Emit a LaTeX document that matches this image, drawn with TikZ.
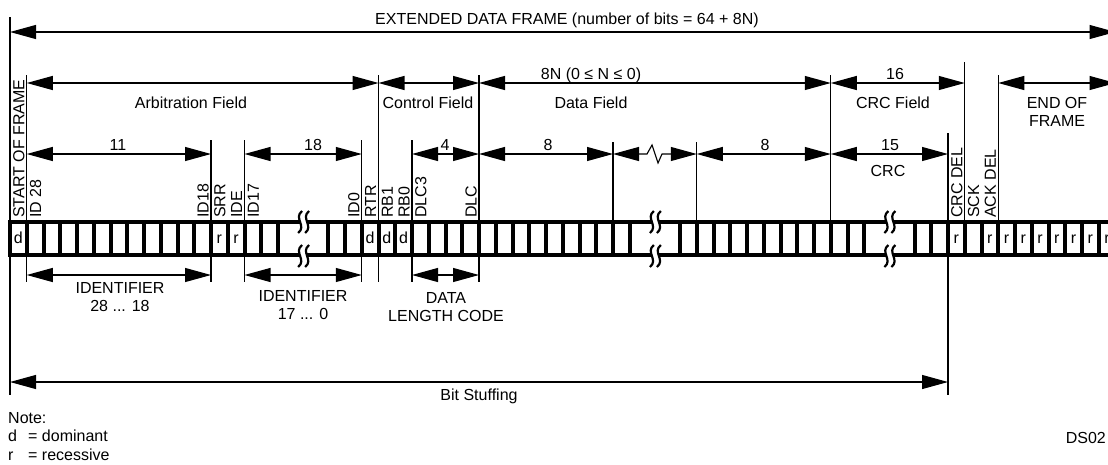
\documentclass[tikz,border=0pt]{standalone}
\usepackage{fontspec}
\setmainfont{Liberation Sans}
\usetikzlibrary{arrows.meta}
\tikzset{
	lbl/.style={inner sep=0pt, anchor=base},
	mlbl/.style={inner sep=0pt, anchor=north, align=center},
	vlbl/.style={inner sep=0pt, rotate=90, anchor=base west},
	bitval/.style={inner sep=0pt, anchor=base},
	dimarrow/.style={{Triangle[length=26pt,width=14pt]}-{Triangle[length=26pt,width=14pt]}, line width=1.1pt},
	extline/.style={line width=1.1pt},
	% break mark across the bit row
	brk/.pic={
		\fill[white] (-1,-11) .. controls (-10,-4) and (4,4) .. (-5,11) -- (2,11) .. controls (11,4) and (-3,-4) .. (6,-11) -- cycle;
		\draw[line width=2.2pt] (-1,-11) .. controls (-10,-4) and (4,4) .. (-5,11);
		\draw[line width=2.2pt] (6,-11) .. controls (-3,-4) and (11,4) .. (2,11);
	},
}

\begin{document}
\begin{tikzpicture}[x=1pt, y=-1pt, every node/.style={font=\fontsize{16}{18.5}\selectfont}]
	\useasboundingbox (0,0) rectangle (1108,464);
	\clip (0,0) rectangle (1108,464);
	\foreach \i in {0,...,66} \coordinate (c\i) at ({10+\i*16.75},0);
	\coordinate (yT) at (0,32); \coordinate (yA) at (0,83); \coordinate (yB) at (0,154);
	\coordinate (yC) at (0,275); \coordinate (yD) at (0,382);
	\foreach \i/\a/\b in {0/17/395,1/75/282,12/140/282,14/140/282,21/140/282,22/75/282,24/140/282,28/75/282,
		36/142/221,41/142/221,49/75/221,56/133/395,57/62/221,59/75/221}
		\draw[extline] ({10+\i*16.75},\a) -- ({10+\i*16.75},\b);
	% bit row
	\fill (8,220) rectangle (1130,257);
	\foreach \i in {0,...,66} \fill[white] ({12+\i*16.75},224) rectangle ({8+(\i+1)*16.75},253);
	\foreach \a/\b in {16/19,37/40,51/54} \fill[white] ({12+\a*16.75},224) rectangle ({8+\b*16.75},253);
	\foreach \x in {303.1,654.9,889.4} {\pic at (\x,222) {brk}; \pic at (\x,256) {brk};}
	\foreach \i/\v in {0/d,12/r,13/r,21/d,22/d,23/d,56/r,58/r,59/r,60/r,61/r,62/r,63/r,64/r,65/r}
		\node[bitval] (bit\i) at ({10+(\i+0.5)*16.75},243) {\v};
	\foreach \i/\t in {0/START OF FRAME,1/ID 28,11/ID18,12/SRR,13/IDE,14/ID17,20/ID0,21/RTR,22/RB1,23/RB0,
		24/DLC3,27/DLC,56/CRC DEL,57/SCK,58/ACK DEL}
		\node[vlbl] (v\i) at ({7.5+(\i+1)*16.75},218) {\t};
	% dimension arrows
	\draw[dimarrow] (c0 |- yT) -- (c66 |- yT);
	\foreach \a/\b in {1/22,22/28,28/49,49/57,59/66} \draw[dimarrow] (c\a |- yA) -- (c\b |- yA);
	\foreach \a/\b in {1/12,14/21,24/28,28/36,41/49,49/56} \draw[dimarrow] (c\a |- yB) -- (c\b |- yB);
	\draw[dimarrow] (c36 |- yB) -- (647,154) -- (652,145) -- (658,163) -- (662,154) -- (c41 |- yB);
	\foreach \a/\b in {1/12,14/21,24/28} \draw[dimarrow] (c\a |- yC) -- (c\b |- yC);
	\draw[dimarrow] (c0 |- yD) -- (c56 |- yD);
	% labels
	\node[lbl] (title) at (567,24) {EXTENDED DATA FRAME (number of bits = 64 + 8N)};
	\node[lbl] (arb) at (191,108) {Arbitration Field};
	\node[lbl] (ctrl) at (428,108) {Control Field};
	\node[lbl] (dlen) at (591,79) {8N (0 ≤ N ≤ 0)};
	\node[lbl] (data) at (591,108) {Data Field};
	\node[lbl] (crclen) at (895,79) {16};
	\node[lbl] (crcf) at (893,108) {CRC Field};
	\node[mlbl] (eof) at (1057,97) {END OF\\FRAME};
	\node[lbl] (n11) at (118,150) {11};
	\node[lbl] (n18) at (313,150) {18};
	\node[lbl] (n4) at (445,150) {4};
	\node[lbl] (n8a) at (548,150) {8};
	\node[lbl] (n8b) at (765,150) {8};
	\node[lbl] (n15) at (890,150) {15};
	\node[lbl] (crc) at (888,176) {CRC};
	\node[mlbl] (idA) at (120,282) {IDENTIFIER\\28 ... 18};
	\node[mlbl] (idB) at (303,290) {IDENTIFIER\\17 ... 0};
	\node[mlbl] (dlc) at (446,292) {DATA\\LENGTH CODE};
	\node[lbl] (stuff) at (479,400) {Bit Stuffing};
	\node[inner sep=0pt, anchor=north west, align=left] (note) at (8,412)
		{Note:\\\makebox[20pt][l]{d}= dominant\\\makebox[20pt][l]{r}= recessive};
	\node[lbl, anchor=base east] (ds) at (1106,443) {DS02};
\end{tikzpicture}
\end{document}
